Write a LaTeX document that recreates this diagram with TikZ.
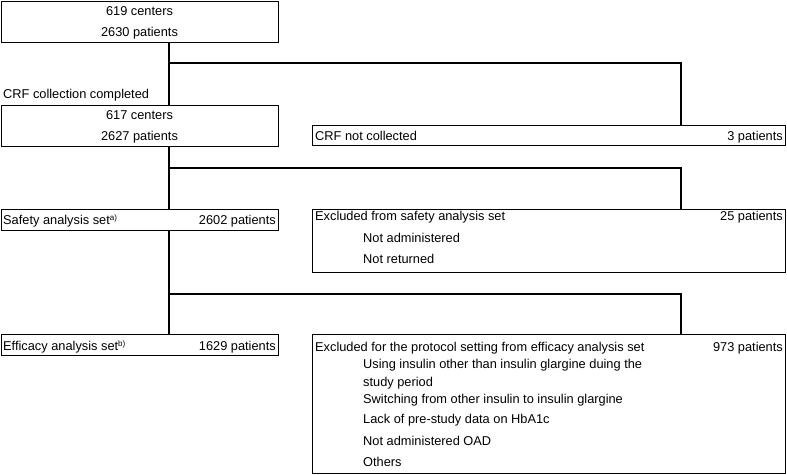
\documentclass[tikz,border=0pt]{standalone}
\usepackage{fontspec}
\setmainfont{Liberation Sans}
\begin{document}
\begin{tikzpicture}[x=1pt,y=-1pt,
  box/.style={draw,line width=1.3pt,rectangle,inner sep=0pt,anchor=north west},
  lt/.style={inner sep=0pt,anchor=base west,font=\fontsize{12.8}{14}\selectfont},
  rt/.style={inner sep=0pt,anchor=base east,font=\fontsize{12.8}{14}\selectfont},
  ct/.style={inner sep=0pt,anchor=base,font=\fontsize{12.8}{14}\selectfont},
  conn/.style={line width=1.3pt}]
\useasboundingbox (0,0) rectangle (787,474);
% boxes
\node[box,minimum width=277pt,minimum height=41pt] (b1) at (1,1) {};
\node[box,minimum width=277pt,minimum height=41pt] (b2) at (1,105) {};
\node[box,minimum width=473pt,minimum height=20pt] (nc) at (312,125) {};
\node[box,minimum width=277pt,minimum height=21pt] (sa) at (1,209) {};
\node[box,minimum width=473pt,minimum height=63pt] (es) at (312,209) {};
\node[box,minimum width=277pt,minimum height=21pt] (ea) at (1,334) {};
\node[box,minimum width=473pt,minimum height=139pt] (ee) at (312,334) {};
% texts
\node[ct] (t1a) at (139.5,15) {619 centers};
\node[ct] (t1b) at (139.5,36) {2630 patients};
\node[lt] (cc) at (3,98) {CRF collection completed};
\node[ct] (t2a) at (139.5,119) {617 centers};
\node[ct] (t2b) at (139.5,140) {2627 patients};
\node[lt] (nca) at (315,140) {CRF not collected};
\node[rt] (ncb) at (783,140) {3 patients};
\node[lt] (saa) at (3,224) {Safety analysis set\raisebox{0.5ex}{\fontsize{8}{9}\selectfont a)}};
\node[rt] (sab) at (276,224) {2602 patients};
\node[lt] (esa) at (315,220) {Excluded from safety analysis set};
\node[rt] (esb) at (783,220) {25 patients};
\node[lt] (es1) at (363,242) {Not administered};
\node[lt] (es2) at (363,263) {Not returned};
\node[lt] (eaa) at (3,350) {Efficacy analysis set\raisebox{0.5ex}{\fontsize{8}{9}\selectfont b)}};
\node[rt] (eab) at (276,350) {1629 patients};
\node[lt] (eea) at (315,351) {Excluded for the protocol setting from efficacy analysis set};
\node[rt] (eeb) at (783,351) {973 patients};
\node[lt] (ee1) at (363,368) {Using insulin other than insulin glargine duing the};
\node[lt] (ee2) at (363,386) {study period};
\node[lt] (ee3) at (363,403) {Switching from other insulin to insulin glargine};
\node[lt] (ee4) at (363,423) {Lack of pre-study data on HbA1c};
\node[lt] (ee5) at (363,445) {Not administered OAD};
\node[lt] (ee6) at (363,466) {Others};
% connectors
\coordinate (v) at (169,0);
\coordinate (j1) at (169,63);
\coordinate (k1) at (681,125);
\coordinate (j2) at (169,168);
\coordinate (k2) at (681,209);
\coordinate (j3) at (169,294);
\coordinate (k3) at (681,334);
\draw[conn] (b1.south -| v) -- (b2.north -| v);
\draw[conn] (j1) -| (k1);
\draw[conn] (b2.south -| v) -- (sa.north -| v);
\draw[conn] (j2) -| (k2);
\draw[conn] (sa.south -| v) -- (ea.north -| v);
\draw[conn] (j3) -| (k3);
\end{tikzpicture}
\end{document}
